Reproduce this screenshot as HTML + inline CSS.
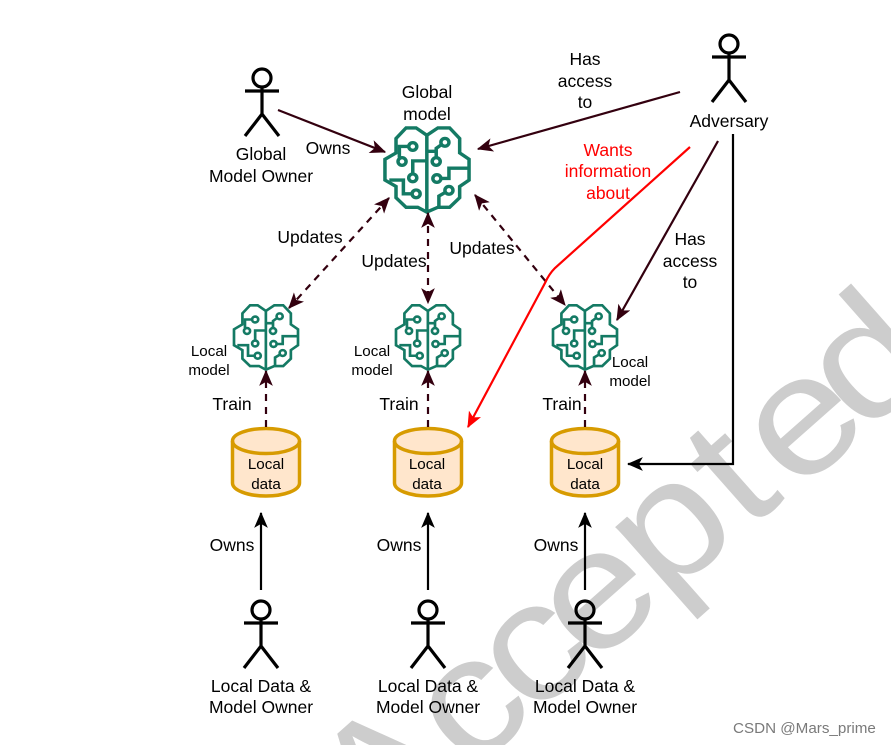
<!DOCTYPE html>
<html><head><meta charset="utf-8"><style>
html,body{margin:0;padding:0;background:#fff;overflow:hidden}
svg{display:block}
text{font-family:"Liberation Sans",sans-serif;text-anchor:middle;fill:#000;font-size:17.5px}
.s{font-size:15.2px}
.wm text{font-size:168px;fill:#cdcdcd;text-anchor:middle}
.r{fill:#ff0000}
.csdn{font-size:15.2px;fill:#7a7a7a;text-anchor:start}
.actor{fill:none;stroke:#000;stroke-width:3.2}
.cyl{fill:#ffe6cc;stroke:#d79b00;stroke-width:3.5}
.l{fill:none;stroke-width:2.2}
.d{stroke:#33000f}
.dash{stroke-dasharray:7 6}
</style></head><body>
<svg width="891" height="745" viewBox="0 0 891 745" xmlns="http://www.w3.org/2000/svg">
<defs>
<marker id="md" viewBox="0 0 14 12" refX="13" refY="6" markerWidth="16" markerHeight="14" markerUnits="userSpaceOnUse" orient="auto-start-reverse"><path d="M14,6L0,0L3.5,6L0,12Z" fill="#33000f"/></marker>
<marker id="mk" viewBox="0 0 14 12" refX="13" refY="6" markerWidth="16" markerHeight="14" markerUnits="userSpaceOnUse" orient="auto"><path d="M14,6L0,0L3.5,6L0,12Z" fill="#000"/></marker>
<marker id="mr" viewBox="0 0 14 12" refX="13" refY="6" markerWidth="16" markerHeight="14" markerUnits="userSpaceOnUse" orient="auto"><path d="M14,6L0,0L3.5,6L0,12Z" fill="#f00"/></marker>
<g id="brain" fill="none" stroke="#147a64" stroke-width="10.5" stroke-linejoin="miter">
<path d="M172,75L140,52H110L80,85V130L47,150V215L80,235V270L110,300H145L172,315L205,300H240L270,270V235L298,215V150L270,130V85L240,52H205Z"/>
<path d="M172,75V315"/>
<circle cx="130" cy="110" r="12"/><circle cx="98" cy="157" r="12"/>
<path d="M118,110H90V145"/>
<circle cx="130" cy="208" r="12"/><path d="M130,196V155H172"/>
<circle cx="140" cy="258" r="12"/><path d="M128,258H102V215H60"/>
<circle cx="226" cy="97" r="12"/><path d="M216,104L200,116V145M172,125H200"/>
<circle cx="200" cy="157" r="12"/>
<circle cx="202" cy="210" r="12"/><path d="M214,210H238V178H298"/>
<circle cx="238" cy="247" r="12"/><path d="M228,253L208,265V300"/>
</g>
<g id="actor" class="actor"><circle cx="0" cy="0" r="9"/><path d="M-17,13H17M0,9V36M-17,58L0,36L17,58"/></g>
<g id="cylinder"><path class="cyl" d="M-33.5,441A33.5,12.5 0 0 1 33.5,441V483A33.5,13 0 0 1 -33.5,483Z"/><path class="cyl" style="fill:none" d="M-33.5,441A33.5,12.5 0 0 0 33.5,441"/></g>
</defs>

<rect width="891" height="745" fill="#fff"/>
<g class="wm">
<text transform="translate(421,814) rotate(-41.5) scale(1.12,1)">A</text>
<text transform="translate(504.5,743.3) rotate(-41.5) scale(1.12,1)">c</text>
<text transform="translate(566.5,688.3) rotate(-41.5) scale(1.12,1)">c</text>
<text transform="translate(630.5,634.3) rotate(-41.5) scale(1.12,1)">e</text>
<text transform="translate(704,567) rotate(-41.5) scale(1.12,1)">p</text>
<text transform="translate(766.6,515) rotate(-41.5) scale(1.12,1)">t</text>
<text transform="translate(835.5,460.3) rotate(-41.5) scale(1.12,1)">e</text>
<text transform="translate(902,401) rotate(-41.5) scale(1.12,1)">d</text>
</g>

<use href="#actor" x="262" y="78"/>
<use href="#actor" x="729" y="44"/>
<use href="#actor" x="261" y="610"/>
<use href="#actor" x="428" y="610"/>
<use href="#actor" x="585" y="610"/>

<g transform="translate(427,170) scale(.335,.32) translate(-172.5,-183.5)"><use href="#brain"/></g>
<g transform="translate(266,337.5) scale(.255,.245) translate(-172.5,-183.5)"><use href="#brain"/></g>
<g transform="translate(428,337.5) scale(.255,.245) translate(-172.5,-183.5)"><use href="#brain"/></g>
<g transform="translate(585,337.5) scale(.255,.245) translate(-172.5,-183.5)"><use href="#brain"/></g>

<use href="#cylinder" x="266"/>
<use href="#cylinder" x="428"/>
<use href="#cylinder" x="585"/>

<g class="l d">
<path d="M278,110L385,152" marker-end="url(#md)"/>
<path d="M680,92L478,149" marker-end="url(#md)"/>
<path d="M718,141L617,320" marker-end="url(#md)"/>
<path class="dash" d="M389,198L289,308" marker-start="url(#md)" marker-end="url(#md)"/>
<path class="dash" d="M428,213V303" marker-start="url(#md)" marker-end="url(#md)"/>
<path class="dash" d="M475,195L565,305" marker-start="url(#md)" marker-end="url(#md)"/>
<path class="dash" d="M266,427V371" marker-end="url(#md)"/>
<path class="dash" d="M428,427V371" marker-end="url(#md)"/>
<path class="dash" d="M585,427V371" marker-end="url(#md)"/>
</g>
<g class="l" stroke="#000">
<path d="M733,134V464H628" marker-end="url(#mk)"/>
<path d="M261,590V513" marker-end="url(#mk)"/>
<path d="M428,590V513" marker-end="url(#mk)"/>
<path d="M585,590V513" marker-end="url(#mk)"/>
</g>
<path class="l" stroke="#f00" d="M690,147L555,268Q549,274 545,283L468,427" marker-end="url(#mr)"/>

<text x="261" y="160">Global</text><text x="261" y="182">Model Owner</text>
<text x="328" y="154">Owns</text>
<text x="427" y="98">Global</text><text x="427" y="120">model</text>
<text x="585" y="65">Has</text><text x="585" y="87">access</text><text x="585" y="108">to</text>
<text x="729" y="127">Adversary</text>
<text class="r" x="608" y="156">Wants</text><text class="r" x="608" y="177">information</text><text class="r" x="608" y="199">about</text>
<text x="690" y="245">Has</text><text x="690" y="267">access</text><text x="690" y="288">to</text>
<text x="310" y="243">Updates</text><text x="394" y="267">Updates</text><text x="482" y="254">Updates</text>
<text class="s" x="209" y="356">Local</text><text class="s" x="209" y="375">model</text>
<text class="s" x="372" y="356">Local</text><text class="s" x="372" y="375">model</text>
<text class="s" x="630" y="367">Local</text><text class="s" x="630" y="386">model</text>
<text x="232" y="410">Train</text><text x="399" y="410">Train</text><text x="562" y="410">Train</text>
<text class="s" x="266" y="469">Local</text><text class="s" x="266" y="489">data</text>
<text class="s" x="427" y="469">Local</text><text class="s" x="427" y="489">data</text>
<text class="s" x="585" y="469">Local</text><text class="s" x="585" y="489">data</text>
<text x="232" y="551">Owns</text><text x="399" y="551">Owns</text><text x="556" y="551">Owns</text>
<text x="261" y="692">Local Data &amp;</text><text x="261" y="713">Model Owner</text>
<text x="428" y="692">Local Data &amp;</text><text x="428" y="713">Model Owner</text>
<text x="585" y="692">Local Data &amp;</text><text x="585" y="713">Model Owner</text>
<text class="csdn" x="733" y="733">CSDN @Mars_prime</text>
</svg>
</body></html>
